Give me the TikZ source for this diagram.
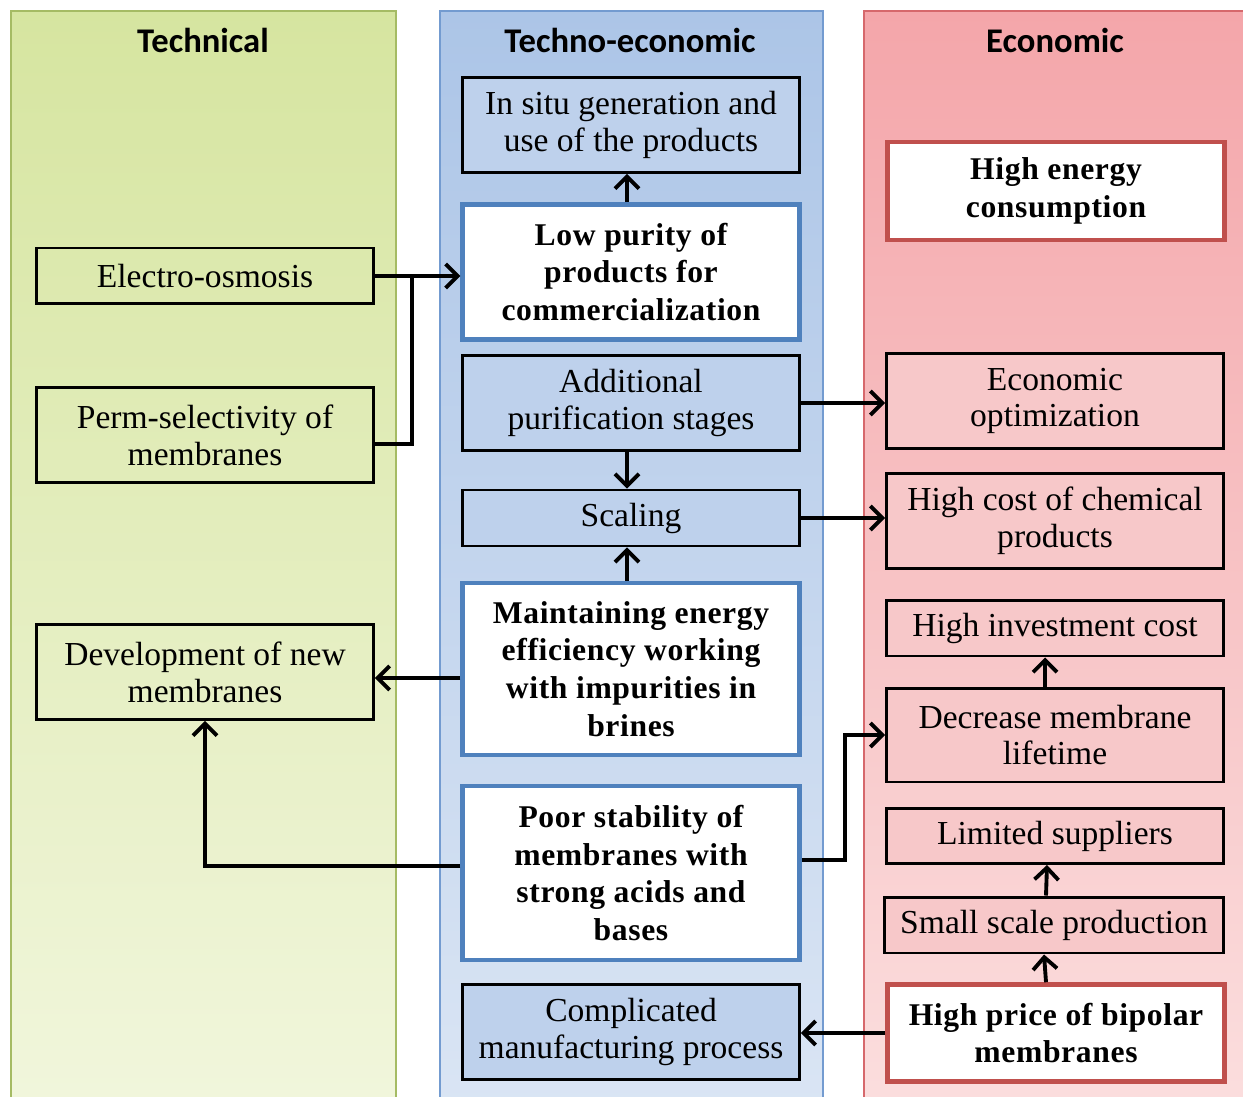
\documentclass[tikz,border=0pt]{standalone}
\usepackage{fontspec}
\setmainfont{Liberation Serif}
\newfontfamily\headfont{Carlito}
\usepackage{xcolor}
\usepackage{tikz}
\usetikzlibrary{arrows.meta}

\definecolor{greentop}{RGB}{214,229,160}
\definecolor{greenbot}{RGB}{241,246,220}
\definecolor{greenedge}{RGB}{165,187,100}
\definecolor{bluetop}{RGB}{172,197,231}
\definecolor{bluebot}{RGB}{218,229,244}
\definecolor{blueedge}{RGB}{115,155,208}
\definecolor{bluefill}{RGB}{190,209,236}
\definecolor{blueline}{RGB}{79,129,189}
\definecolor{redtop}{RGB}{244,166,170}
\definecolor{redbot}{RGB}{251,222,222}
\definecolor{rededge}{RGB}{214,104,108}
\definecolor{redfill}{RGB}{247,200,201}
\definecolor{redline}{RGB}{192,80,77}

\begin{document}
\begin{tikzpicture}[x=0.02cm, y=-0.02cm,
    head/.style={font=\headfont\bfseries\fontsize{19.7}{22}\selectfont},
    box/.style={draw=black, line width=1.7pt, minimum width=6.74cm, inner sep=0pt, align=center,
        font=\fontsize{19.1}{21}\selectfont},
    keybox/.style={box, fill=white, line width=2.6pt,
        font=\addfontfeatures{LetterSpace=2}\bfseries\fontsize{18}{21.5}\selectfont},
    bluebox/.style={box, fill=bluefill},
    redbox/.style={box, fill=redfill},
    arr/.style={line width=2.2pt, -{Straight Barb[length=2.4mm, width=4.8mm, line width=2.2pt]}},
    line/.style={line width=2.2pt}]
    \clip (0,0) rectangle (1243,1097);
    % columns
    \draw [draw=greenedge, line width=1.2pt, top color=greentop, bottom color=greenbot] (11,11) rectangle (396,1110);
    \draw [draw=blueedge, line width=1.2pt, top color=bluetop, bottom color=bluebot] (440,11) rectangle (823,1110);
    \draw [draw=rededge, line width=1.2pt, top color=redtop, bottom color=redbot] (864,11) rectangle (1260,1110);
    \node (htech) at (203, 40) [head] {Technical};
    \node (htecheco) at (630, 40) [head] {Techno-economic};
    \node (heco) at (1055, 40) [head] {Economic};

    % technical
    \node (eo) at (205, 276) [box, minimum height=1.12cm] {Electro-osmosis};
    \node (perm) at (205, 435) [box, minimum height=1.9cm] {Perm-selectivity of\\membranes};
    \node (dev) at (205, 672) [box, minimum height=1.9cm] {Development of new\\membranes};

    % techno-economic
    \node (insitu) at (631, 125) [bluebox, minimum height=1.9cm] {In situ generation and\\use of the products};
    \node (lowp) at (631, 272) [keybox, draw=blueline, minimum height=2.7cm] {Low purity of\\products for\\commercialization};
    \node (add) at (631, 403) [bluebox, minimum height=1.9cm] {Additional\\purification stages};
    \node (scal) at (631, 518) [bluebox, minimum height=1.12cm] {Scaling};
    \node (maint) at (631, 669) [keybox, draw=blueline, minimum height=3.44cm] {Maintaining energy\\efficiency working\\with impurities in\\brines};
    \node (poor) at (631, 873) [keybox, draw=blueline, minimum height=3.48cm] {Poor stability of\\membranes with\\strong acids and\\bases};
    \node (comp) at (631, 1032) [bluebox, minimum height=1.9cm] {Complicated\\manufacturing process};

    % economic
    \node (energy) at (1056, 191) [keybox, draw=redline, minimum height=1.96cm] {High energy\\consumption};
    \node (opt) at (1055, 401) [redbox, minimum height=1.9cm] {Economic\\optimization};
    \node (cost) at (1055, 521) [redbox, minimum height=1.9cm] {High cost of chemical\\products};
    \node (inv) at (1055, 628) [redbox, minimum height=1.12cm] {High investment cost};
    \node (life) at (1055, 735) [redbox, minimum height=1.88cm] {Decrease membrane\\lifetime};
    \node (supp) at (1055, 836) [redbox, minimum height=1.1cm] {Limited suppliers};
    \node (small) at (1054, 925) [redbox, minimum width=6.78cm, minimum height=1.12cm] {Small scale production};
    \node (price) at (1056, 1033) [keybox, draw=redline, minimum height=1.94cm] {High price of bipolar\\membranes};

    % connectors
    \coordinate (join) at (412, 276);
    \draw [arr] (eo.east) -- (eo.east -| lowp.west);
    \draw [line] ([yshift=-0.18cm]perm.east) -| (join);
    \draw [arr] ([xshift=-0.08cm]lowp.north) -- ([xshift=-0.08cm]insitu.south);
    \draw [arr] ([xshift=-0.08cm]add.south) -- ([xshift=-0.08cm]scal.north);
    \draw [arr] ([xshift=-0.08cm]maint.north) -- ([xshift=-0.08cm]scal.south);
    \draw [arr] (add.east) -- (add.east -| opt.west);
    \draw [arr] (scal.east) -- (scal.east -| cost.west);
    \draw [arr] ([yshift=-0.18cm]maint.west) -- ([yshift=-0.18cm]maint.west -| dev.east);
    \draw [arr] ([yshift=0.14cm]poor.west) -| (dev.south);
    \draw [arr] ([yshift=0.26cm]poor.east) -- ++(43,0) |- (life.west);
    \draw [arr] ([xshift=-0.2cm]life.north) -- ([xshift=-0.2cm]inv.south);
    \draw [arr] ([xshift=-0.16cm]small.north) -- ([xshift=-0.16cm]supp.south);
    \draw [arr] ([xshift=-0.2cm]price.north) -- ([xshift=-0.2cm]small.south);
    \draw [arr] (price.west) -- (price.west -| comp.east);
\end{tikzpicture}
\end{document}
